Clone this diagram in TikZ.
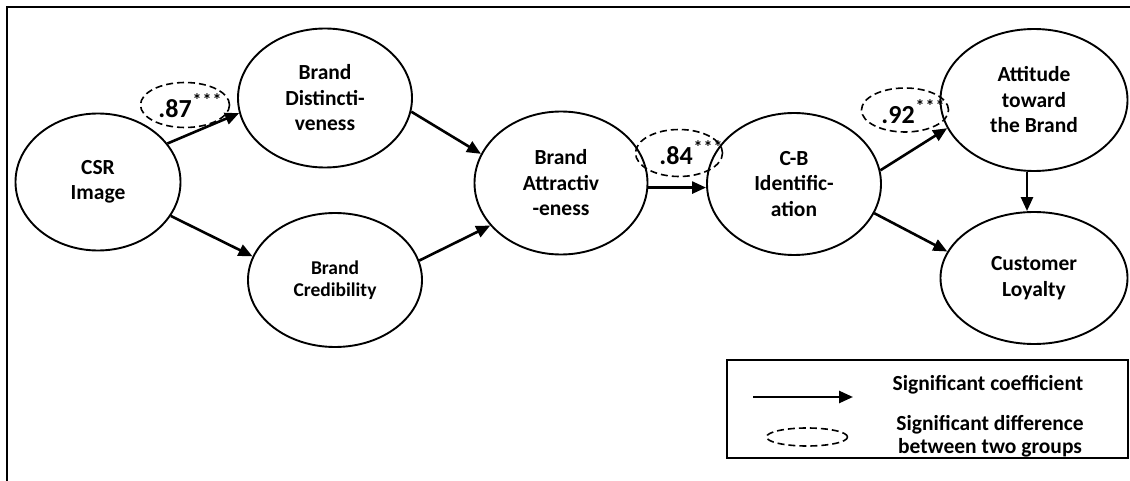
\documentclass[tikz,border=0pt]{standalone}
\usepackage{fontspec}
\setmainfont{Carlito}
\usetikzlibrary{shapes.geometric,arrows.meta}
% significance stars set above the coefficient
\newcommand\sigstars{\kern1pt\raisebox{11pt}{\fontsize{18}{18}\selectfont *\kern1pt*\kern1pt*}}
\begin{document}
\begin{tikzpicture}[x=1pt,y=-1pt,
  construct/.style={draw,ellipse,line width=1.9pt,inner sep=0pt,align=center,
    font=\fontsize{21.5}{25.5}\selectfont\bfseries},
  diffmark/.style={draw,ellipse,dashed,dash pattern=on 7pt off 4pt,line width=1.6pt,inner sep=0pt},
  coef/.style={font=\fontsize{26}{28}\selectfont\bfseries},
  path/.style={line width=2.6pt,-{Triangle[length=14pt,width=12pt]}},
  legendtext/.style={font=\fontsize{21.5}{23}\selectfont\bfseries,align=center}]
\useasboundingbox (0,0) rectangle (1130,481);
\clip (0,0) rectangle (1130,481);
% outer frame
\draw[line width=2.8pt] (7,7) rectangle (1150,500);

% constructs
\node[construct,minimum width=165pt,minimum height=137pt] (csr) at (98,182) {CSR\\Image};
\node[construct,minimum width=174pt,minimum height=139pt] (dist) at (325,98) {Brand\\Distincti-\\veness};
\node[construct,minimum width=174pt,minimum height=134pt,font=\fontsize{19.5}{22.5}\selectfont\bfseries] (cred) at (335,280) {Brand\\Credibility};
\node[construct,minimum width=173pt,minimum height=143pt] (attr) at (561,183) {Brand\\Attractiv\\-eness};
\node[construct,minimum width=174pt,minimum height=142pt] (cb) at (794,184) {C-B\\Identific-\\ation};
\node[construct,minimum width=187pt,minimum height=142pt] (att) at (1034,100) {Attitude\\toward\\the Brand};
\node[construct,minimum width=187pt,minimum height=132pt] (loy) at (1034,278) {Customer\\Loyalty};

% group differences
\node[diffmark,minimum width=89pt,minimum height=45pt] (d1) at (185,105) {};
\node[coef] (c1) at (190,106) {.87\sigstars};
\node[diffmark,minimum width=87pt,minimum height=47pt] (d2) at (679,153) {};
\node[coef] (c2) at (691,153) {.84\sigstars};
\node[diffmark,minimum width=87pt,minimum height=44pt] (d3) at (905,110) {};
\node[coef] (c3) at (913,112) {.92\sigstars};

% paths
\draw[path] (csr.29) -- (dist.190);
\draw[path] (csr.-25) -- (cred.164);
\draw[path] (dist.-9) -- (attr.160);
\draw[path] (cred.13) -- (attr.211);
\draw[path] (attr.-3) -- (attr.-3 -| cb.west);
\draw[path] (cb.9) -- (att.198);
\draw[path] (cb.-20) -- (loy.163);
\draw[path] ([xshift=-7pt]att.south) -- ([xshift=-7pt]loy.north);

% legend
\node[draw,line width=2pt,minimum width=401pt,minimum height=98pt,inner sep=0pt] (legend) at (927.5,409) {};
\coordinate (la) at (753,397);
\coordinate (lb) at (853,397);
\draw[path] (la) -- (lb);
\node[diffmark,minimum width=81pt,minimum height=18pt] (lkey) at (807,437) {};
\node[legendtext] (l1) at (988,385) {Significant coefficient};
\node[legendtext] (l2) at (990,436) {Significant difference\\between two groups};
\end{tikzpicture}
\end{document}
